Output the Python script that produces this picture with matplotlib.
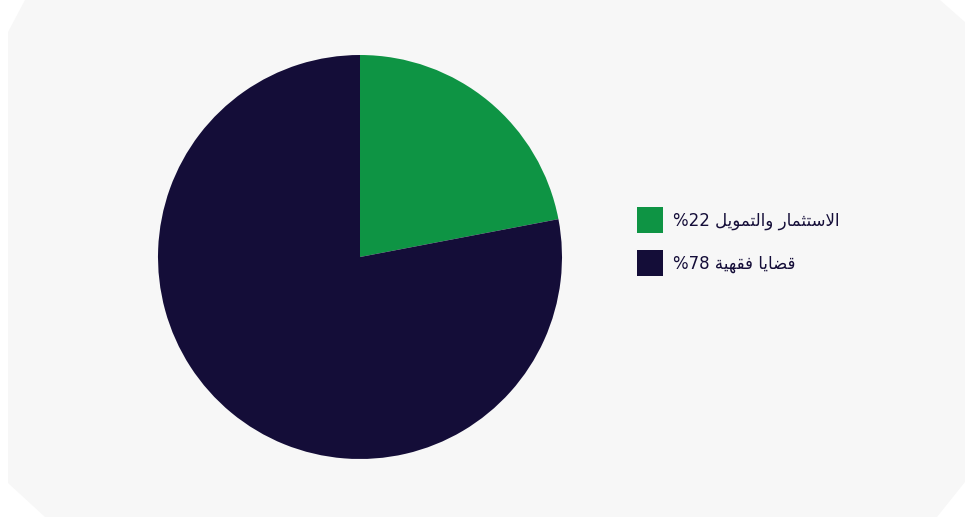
import matplotlib
matplotlib.use("Agg")
import matplotlib.pyplot as plt
from matplotlib.patches import Polygon, Patch

# data
labels = ["الاستثمار والتمويل", "قضايا فقهية"]
values = [22, 78]
colors = ["#0e9444", "#140d38"]

# --- minimal Arabic shaping (matplotlib does no shaping / bidi) ---
# letter: (isolated, final, initial, medial); 2-tuple = joins only to the right
FORMS = {
    "ا": ("\ufe8d", "\ufe8e"),
    "ة": ("\ufe93", "\ufe94"),
    "ر": ("\ufead", "\ufeae"),
    "و": ("\ufeed", "\ufeee"),
    "ت": ("\ufe95", "\ufe96", "\ufe97", "\ufe98"),
    "ث": ("\ufe99", "\ufe9a", "\ufe9b", "\ufe9c"),
    "س": ("\ufeb1", "\ufeb2", "\ufeb3", "\ufeb4"),
    "ض": ("\ufebd", "\ufebe", "\ufebf", "\ufec0"),
    "ف": ("\ufed1", "\ufed2", "\ufed3", "\ufed4"),
    "ق": ("\ufed5", "\ufed6", "\ufed7", "\ufed8"),
    "ل": ("\ufedd", "\ufede", "\ufedf", "\ufee0"),
    "م": ("\ufee1", "\ufee2", "\ufee3", "\ufee4"),
    "ه": ("\ufee9", "\ufeea", "\ufeeb", "\ufeec"),
    "ي": ("\ufef1", "\ufef2", "\ufef3", "\ufef4"),
}


def shape(word):
    # lam + alef ligature first
    chars = []
    i = 0
    while i < len(word):
        if word[i] == "ل" and i + 1 < len(word) and word[i + 1] == "ا":
            chars.append("LA")
            i += 2
        else:
            chars.append(word[i])
            i += 1
    out = []
    for k, c in enumerate(chars):
        prev = chars[k - 1] if k > 0 else None
        nxt = chars[k + 1] if k + 1 < len(chars) else None
        join_prev = prev is not None and prev in FORMS and len(FORMS[prev]) == 4
        if c == "LA":
            out.append("\ufefc" if join_prev else "\ufefb")
            continue
        f = FORMS[c]
        join_next = len(f) == 4 and nxt is not None
        if join_prev and join_next:
            out.append(f[3])
        elif join_prev:
            out.append(f[1])
        elif join_next:
            out.append(f[2])
        else:
            out.append(f[0])
    return "".join(out)


def rtl(text):
    words = [shape(w) for w in text.split(" ")]
    return " ".join(w[::-1] for w in reversed(words))


legend_labels = [f"%{v} " + rtl(t) for t, v in zip(labels, values)]

fig = plt.figure(figsize=(9.65, 5.17), dpi=100)
fig.patch.set_facecolor("white")

# octagon background card
W, H = 965, 517
pts = [(25, 0), (940, 0), (965, 22), (965, 482), (937, 517), (45, 517), (8, 483), (8, 32)]
fig.add_artist(Polygon([(x / W, 1 - y / H) for x, y in pts], closed=True,
                       transform=fig.transFigure, facecolor="#f7f7f7",
                       edgecolor="none", zorder=0))

# pie: center (360,257), radius 202 px
r = 202
ax = fig.add_axes([(360 - r) / W, (H - 257 - r) / H, 2 * r / W, 2 * r / H])
ax.pie(values, colors=colors, startangle=90, counterclock=False,
       wedgeprops=dict(linewidth=0))
ax.set_xlim(-1, 1)
ax.set_ylim(-1, 1)
ax.set_aspect("equal")
ax.axis("off")

handles = [Patch(facecolor=c, edgecolor="none") for c in colors]
fig.legend(handles, legend_labels, loc="upper left",
           bbox_to_anchor=(637 / W, 1 - 207 / H), bbox_transform=fig.transFigure,
           frameon=False, borderpad=0, borderaxespad=0,
           handlelength=1.56, handleheight=2.02, handletextpad=0.6,
           labelspacing=1.04, labelcolor="#140d38",
           prop=dict(family=["DejaVu Sans"], size=12))

fig.savefig("out.png", dpi=100, facecolor=fig.get_facecolor())
